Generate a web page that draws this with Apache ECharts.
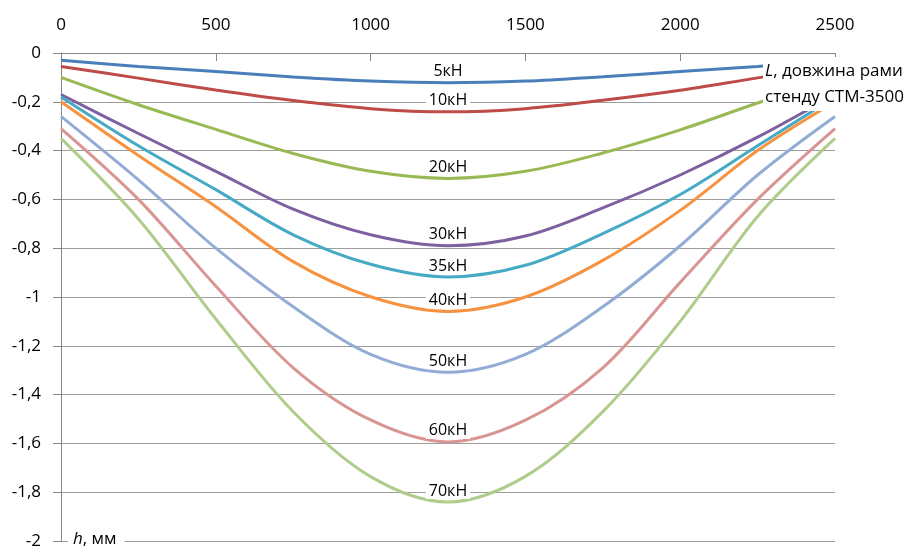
<!DOCTYPE html>
<html>
<head>
<meta charset="utf-8">
<script src="https://cdn.jsdelivr.net/npm/echarts@6/dist/echarts.min.js"></script>
<style>
  html, body { margin: 0; padding: 0; background: #fff; }
  #chart { width: 914px; height: 551px; }
</style>
</head>
<body>
<div id="chart"></div>
<script>
var chart = echarts.init(document.getElementById('chart'));
var fontFamily = '"Open Sans", "Noto Sans", sans-serif';

// x positions along the frame, mm
var xs = [0, 250, 500, 750, 1000, 1250, 1500, 1750, 2000, 2250, 2500];

// deflection h, mm
var s5 = [-0.03, -0.055, -0.076, -0.098, -0.115, -0.122, -0.115, -0.097, -0.076, -0.055, -0.03];
var s10 = [-0.055, -0.103, -0.152, -0.195, -0.228, -0.241, -0.228, -0.194, -0.153, -0.102, -0.055];
var s20 = [-0.1, -0.212, -0.313, -0.412, -0.485, -0.514, -0.485, -0.41, -0.315, -0.205, -0.1];
var s30 = [-0.17, -0.33, -0.485, -0.64, -0.745, -0.79, -0.75, -0.635, -0.5, -0.345, -0.17];
var s35 = [-0.18, -0.38, -0.56, -0.745, -0.866, -0.918, -0.87, -0.74, -0.58, -0.38, -0.18];
var s40 = [-0.2, -0.42, -0.63, -0.855, -0.999, -1.059, -1.0, -0.85, -0.645, -0.4, -0.2];
var s50 = [-0.26, -0.52, -0.8, -1.04, -1.235, -1.308, -1.235, -1.04, -0.79, -0.5, -0.26];
var s60 = [-0.31, -0.6, -0.955, -1.29, -1.504, -1.594, -1.505, -1.29, -0.94, -0.6, -0.31];
var s70 = [-0.35, -0.68, -1.09, -1.47, -1.736, -1.84, -1.735, -1.47, -1.1, -0.67, -0.35];

var loads = ['5кН', '10кН', '20кН', '30кН', '35кН', '40кН', '50кН', '60кН', '70кН'];
var values = [s5, s10, s20, s30, s35, s40, s50, s60, s70];
var colors = ['#4a7ebb', '#be4b48', '#98b954', '#7d60a0', '#46aac5', '#f69240', '#92acd6', '#d99593', '#b0cc8a'];

// the load label sits over the middle point of each curve
var labelIndex = 5;

var series = values.map(function(vals, i) {
  var data = xs.map(function(x, j) {
    var item = { value: [x, vals[j]] };
    if (j === labelIndex) {
      item.label = {
        show: true,
        position: 'top',
        distance: 3,
        formatter: loads[i],
        color: '#000',
        fontFamily: fontFamily,
        fontSize: 16,
        backgroundColor: '#fff',
        padding: [0, 3]
      };
    }
    return item;
  });
  return {
    type: 'line',
    name: loads[i],
    data: data,
    smooth: 0.33,
    showSymbol: true,
    symbol: 'circle',
    symbolSize: 0,
    silent: true,
    label: { show: false },
    lineStyle: { color: colors[i], width: 3 },
    itemStyle: { color: colors[i] }
  };
});

function commaNumber(v) {
  return String(v).replace('.', ',');
}

chart.setOption({
  animation: false,
  textStyle: { fontFamily: fontFamily },
  grid: {
    left: 61,
    top: 53,
    right: 79,
    bottom: 10
  },
  xAxis: {
    type: 'value',
    position: 'top',
    min: 0,
    max: 2500,
    interval: 500,
    axisLine: { show: true, onZero: false, lineStyle: { color: '#868686', width: 1 } },
    axisTick: { show: true, inside: true, length: 8, lineStyle: { color: '#868686' } },
    axisLabel: {
      margin: 19,
      color: '#000',
      fontSize: 17,
      fontFamily: fontFamily,
      formatter: function(v) { return String(v); }
    },
    splitLine: { show: false }
  },
  yAxis: {
    type: 'value',
    min: -2,
    max: 0,
    interval: 0.2,
    axisLine: { show: true, onZero: false, lineStyle: { color: '#868686', width: 1 } },
    axisTick: { show: true, inside: false, length: 8, lineStyle: { color: '#868686' } },
    axisLabel: { margin: 20, color: '#000', fontSize: 17, fontFamily: fontFamily, formatter: commaNumber },
    splitLine: { show: true, lineStyle: { color: '#9d9d9d', width: 1 } }
  },
  graphic: [
    {
      type: 'text',
      left: 763,
      top: 57,
      z: 100,
      style: {
        text: '{i|L}, довжина рами\nстенду СТМ-3500',
        fontSize: 17,
        fontFamily: fontFamily,
        fill: '#000',
        lineHeight: 26,
        backgroundColor: '#fff',
        padding: [1, 4, 1, 2],
        rich: {
          i: { fontStyle: 'italic', fontSize: 17, fontFamily: fontFamily, fill: '#000', lineHeight: 26 }
        }
      }
    },
    {
      type: 'text',
      left: 68,
      top: 531,
      z: 100,
      style: {
        text: '{i|h}, мм',
        fontSize: 17,
        fontFamily: fontFamily,
        fill: '#000',
        backgroundColor: '#fff',
        padding: [0, 8, 0, 5],
        rich: {
          i: { fontStyle: 'italic', fontSize: 17, fontFamily: fontFamily, fill: '#000' }
        }
      }
    }
  ],
  series: series
});
</script>
</body>
</html>
